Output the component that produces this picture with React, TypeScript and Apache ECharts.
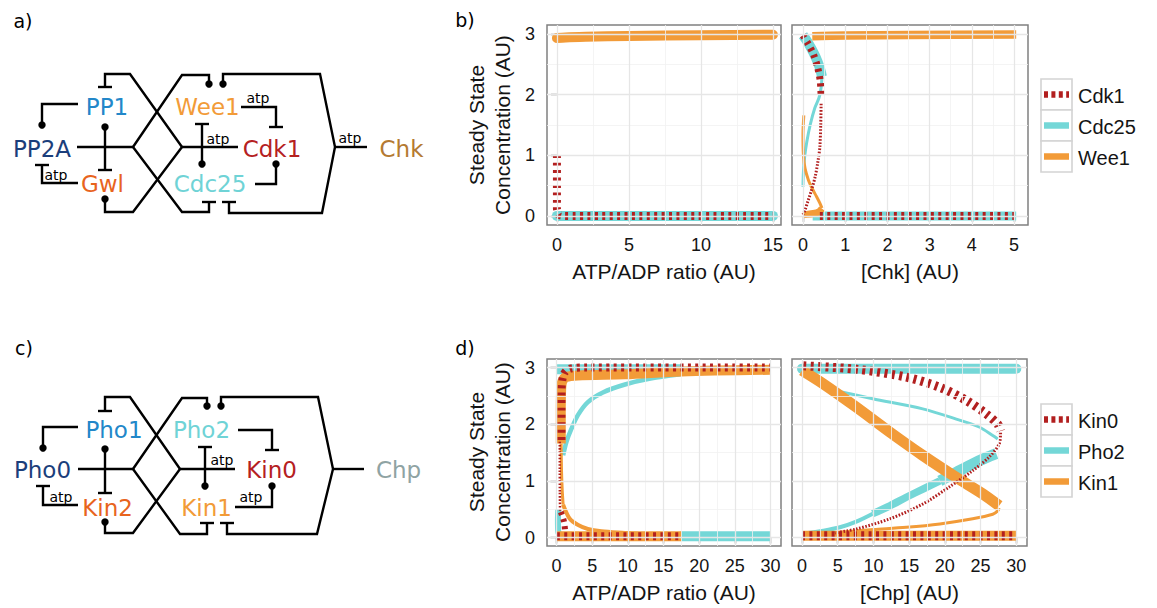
import React, { useEffect, useRef } from "react";
import * as echarts from "echarts";

type P = [number, number];

const RED = "#B21F1F";
const CYAN = "#74D7D7";
const ORANGE = "#F29B38";

// ---------------- tick values ----------------
const concTicks = [0, 1, 2, 3];
const concMinor = [0.5, 1.5, 2.5];
const atpTicksB = [0, 5, 10, 15];
const atpMinorB = [2.5, 7.5, 12.5];
const chkTicks = [0, 1, 2, 3, 4, 5];
const chkMinor = [0.5, 1.5, 2.5, 3.5, 4.5];
const ticks30 = [0, 5, 10, 15, 20, 25, 30];
const minor30 = [2.5, 7.5, 12.5, 17.5, 22.5, 27.5];

// ---------------- legends ----------------
const legendB = ["Cdk1", "Cdc25", "Wee1"];
const legendD = ["Kin0", "Pho2", "Kin1"];

// ---------------- panel b, left (ATP/ADP ratio) ----------------
const bATP_Cdc25: P[] = [[0, 0], [15, 0]];
const bATP_Wee1: P[] = [[0, 2.935], [0.6, 2.945], [2, 2.955], [5, 2.97], [10, 2.982], [15, 2.99]];
const bATP_Cdk1: P[] = [[0, 1.0], [0, 0.12], [0.12, 0.02], [0.4, 0], [15, 0]];

// ---------------- panel b, right ([Chk]) ----------------
const bChk_Cdc25_hi: P[] = [[0, 2.98], [0.1, 2.88], [0.2, 2.76], [0.3, 2.62], [0.39, 2.46], [0.45, 2.3]];
const bChk_Cdc25_mid: P[] = [[0.45, 2.3], [0.43, 2.12], [0.38, 1.95], [0.28, 1.78], [0.17, 1.5], [0.09, 1.22], [0.04, 0.98], [0.01, 0.72], [0, 0.48]];
const bChk_Cdc25_lo: P[] = [[0.23, 0], [5.05, 0]];
const bChk_Wee1_hi: P[] = [[0.22, 2.965], [1, 2.975], [2.5, 2.985], [5.05, 2.995]];
const bChk_Wee1_mid: P[] = [[0.02, 1.66], [0, 1.35], [0.01, 1.0], [0.05, 0.78], [0.13, 0.59], [0.22, 0.45], [0.32, 0.32], [0.4, 0.21], [0.45, 0.13]];
const bChk_Wee1_lo: P[] = [[0.45, 0.12], [0.38, 0.07], [0.25, 0.04], [0.1, 0.025], [0, 0.02]];
const bChk_Cdk1_hi: P[] = [[0, 2.98], [0.12, 2.84], [0.24, 2.68], [0.34, 2.47], [0.41, 2.22], [0.43, 1.95]];
const bChk_Cdk1_mid: P[] = [[0.43, 1.85], [0.42, 1.5], [0.4, 1.14], [0.35, 0.88], [0.29, 0.65], [0.2, 0.42], [0.12, 0.25], [0.05, 0.1], [0, 0.02]];
const bChk_Cdk1_lo: P[] = [[0.4, 0], [5, 0]];

// ---------------- panel d, left (ATP/ADP ratio) ----------------
const dATP_Pho2_hi: P[] = [[0.05, 2.97], [17.5, 2.97]];
const dATP_Pho2_lo: P[] = [[17.4, 0.02], [30, 0.02]];
const dATP_Pho2_mid: P[] = [[0.93, 1.45], [1.4, 1.69], [2.1, 1.92], [3.0, 2.16], [4.4, 2.39], [6.5, 2.56], [9.6, 2.7], [13, 2.8], [17.4, 2.88]];
const dATP_Pho2_low2: P[] = [[0.25, 0.5], [0.2, 0.3], [0.25, 0.1], [0.6, 0.04], [1.5, 0.03]];
const dATP_Kin1_hi: P[] = [[0.6, 1.66], [0.6, 2.2], [0.65, 2.6], [0.8, 2.75], [1.3, 2.83], [3, 2.86], [9.6, 2.88], [17.5, 2.93], [30, 2.96]];
const dATP_Kin1_lo: P[] = [[0.05, 0.02], [17.5, 0.02]];
const dATP_Kin1_mid: P[] = [[0.65, 1.66], [0.7, 1.2], [0.8, 0.85], [0.93, 0.58]];
const dATP_Kin1_mid2: P[] = [[0.93, 0.58], [1.86, 0.33], [3.04, 0.22], [4.4, 0.15], [6.3, 0.11], [9.6, 0.08], [13, 0.05]];
const dATP_Kin0_hi: P[] = [[0.7, 1.72], [0.7, 2.2], [0.72, 2.6], [0.85, 2.8], [1.2, 2.92], [1.9, 2.98], [4, 3.0], [30, 3.0]];
const dATP_Kin0_lo: P[] = [[0.05, 0.02], [17.5, 0.02]];
const dATP_Kin0_mid: P[] = [[0.46, 1.69], [0.46, 1.2], [0.47, 0.8], [0.5, 0.45]];
const dATP_Kin0_low2: P[] = [[0.6, 0.45], [0.9, 0.35], [1.1, 0.25], [1.2, 0.12]];

// ---------------- panel d, right ([Chp]) ----------------
const dChp_Pho2_hi: P[] = [[0, 2.98], [30, 2.98]];
const dChp_Pho2_mid: P[] = [[4.4, 2.6], [9.9, 2.45], [16.9, 2.27], [21.6, 2.09], [24.8, 1.95], [26.7, 1.8], [27.4, 1.74]];
const dChp_Pho2_rise1: P[] = [[0.2, 0.07], [3, 0.12], [5.3, 0.18], [7.6, 0.28], [9.9, 0.42]];
const dChp_Pho2_rise2: P[] = [[9.9, 0.42], [12.3, 0.56], [14.6, 0.71], [17, 0.86], [19.3, 1.0]];
const dChp_Pho2_rise3: P[] = [[19.3, 1.0], [21.6, 1.15], [23.9, 1.3], [25.8, 1.41], [27.2, 1.48]];
const dChp_Kin1_diag: P[] = [[0, 2.95], [3, 2.71], [7.6, 2.3], [12.3, 1.86], [16.9, 1.45], [21.6, 1.06], [25.3, 0.77], [27.6, 0.56]];
const dChp_Kin1_mid: P[] = [[27.6, 0.52], [27.4, 0.47], [26.7, 0.41], [23.9, 0.33], [19.3, 0.24], [14.6, 0.18], [10, 0.14], [4.8, 0.09]];
const dChp_Kin1_lo: P[] = [[0, 0.03], [30, 0.03]];
const dChp_Kin0_hi: P[] = [[0.2, 3.03], [7.6, 2.97], [14.6, 2.83], [19.3, 2.65], [23, 2.42], [25.8, 2.18], [27.4, 2.0], [27.8, 1.88]];
const dChp_Kin0_mid: P[] = [[27.8, 1.85], [27.6, 1.65], [26.2, 1.42], [23.9, 1.18], [20.6, 0.89], [16.9, 0.59], [12.3, 0.33], [7.6, 0.15], [4.6, 0.08]];
const dChp_Kin0_lo: P[] = [[0, 0.03], [30, 0.03]];

// ---------------- diagram labels ----------------
const diagA = ["PP1", "PP2A", "Gwl", "Wee1", "Cdk1", "Cdc25", "Chk"];
const diagC = ["Pho1", "Pho0", "Kin2", "Pho2", "Kin0", "Kin1", "Chp"];
const diagColors = ["#2287C9", "#1B3E7B", "#E8641D", "#F29B38", "#B5211F", "#6FD3D6"];
const colChk = "#B47A32";
const colChp = "#8FA3A3";

const FONT = '"Liberation Sans", Arial, sans-serif';
const DFONT = '"DejaVu Sans", Verdana, sans-serif';
const TXT = "#141414";

type Kind = "solid" | "dash" | "dot";

function seg(gi: number, name: string, data: P[], color: string, width: number, kind: Kind, cap = "butt", smooth: number | boolean = 0.3) {
  return {
    type: "line",
    name,
    xAxisIndex: gi,
    yAxisIndex: gi,
    data,
    showSymbol: false,
    symbol: "none",
    smooth,
    silent: true,
    clip: true,
    lineStyle: {
      color,
      width,
      type: kind === "dash" ? [3, 4.4] : kind === "dot" ? [1.6, 1.6] : "solid",
      cap,
      join: "round",
    },
  };
}

function gridSeries(gi: number, xMajor: number[], xMinor: number[]) {
  const maj = { color: "#e6e6e6", width: 1.3, type: "solid" };
  const min = { color: "#f1f1f1", width: 0.8, type: "solid" };
  const d: any[] = [];
  xMinor.forEach((v) => d.push({ xAxis: v, lineStyle: min }));
  concMinor.forEach((v) => d.push({ yAxis: v, lineStyle: min }));
  xMajor.forEach((v) => d.push({ xAxis: v, lineStyle: maj }));
  concTicks.forEach((v) => d.push({ yAxis: v, lineStyle: maj }));
  return {
    type: "line",
    xAxisIndex: gi,
    yAxisIndex: gi,
    data: [[0, 0]],
    showSymbol: false,
    symbol: "none",
    silent: true,
    z: 1,
    lineStyle: { opacity: 0 },
    markLine: {
      silent: true,
      symbol: ["none", "none"],
      label: { show: false },
      emphasis: { disabled: true },
      animation: false,
      data: d,
    },
  };
}

function xAxis(gi: number, min: number, max: number, ticks: number[], name: string) {
  return {
    type: "value",
    gridIndex: gi,
    min,
    max,
    name,
    nameLocation: "middle",
    nameGap: 36,
    nameTextStyle: { fontSize: 21, color: TXT, fontFamily: FONT },
    axisLine: { show: false },
    axisTick: { show: true, customValues: ticks, length: 6, lineStyle: { color: "#333", width: 1.3 } },
    axisLabel: { customValues: ticks, fontSize: 18, color: TXT, fontFamily: FONT, margin: 11 },
    splitLine: { show: false },
    minorSplitLine: { show: false },
  };
}

function yAxis(gi: number, labels: boolean) {
  return {
    type: "value",
    gridIndex: gi,
    min: -0.15,
    max: 3.15,
    axisLine: { show: false },
    axisTick: { show: labels, customValues: concTicks, length: 6, lineStyle: { color: "#333", width: 1.3 } },
    axisLabel: { show: labels, customValues: concTicks, fontSize: 18, color: TXT, fontFamily: FONT, margin: 12 },
    splitLine: { show: false },
  };
}

// ---------- diagram helpers ----------
const LW = 2.4;
function pl(points: number[][]) {
  return { type: "polyline", silent: true, shape: { points }, style: { stroke: "#000", lineWidth: LW, fill: null, lineJoin: "miter" } };
}
function dot(x: number, y: number) {
  return { type: "circle", silent: true, shape: { cx: x, cy: y, r: 3.7 }, style: { fill: "#000" } };
}
function tbar(x: number, y: number) {
  return { type: "line", silent: true, shape: { x1: x - 7, y1: y, x2: x + 7, y2: y }, style: { stroke: "#000", lineWidth: LW } };
}
function txt(text: string, x: number, y: number, color: string, size: number, family = DFONT) {
  return {
    type: "text",
    silent: true,
    x,
    y,
    style: { text, fill: color, font: `${size}px ${family}`, align: "center", verticalAlign: "middle", textAlign: "center", textVerticalAlign: "middle" },
  };
}

function diagramA(): any[] {
  const e: any[] = [];
  e.push(pl([[77, 147], [133, 147]]));
  e.push(pl([[133, 147], [182, 75], [209, 75], [209, 82]]), dot(209, 84));
  e.push(pl([[133, 147], [182, 212], [209, 212], [209, 202]]), tbar(209, 202));
  e.push(pl([[182, 147], [130, 74], [105, 74], [105, 87]]), tbar(105, 87));
  e.push(pl([[182, 147], [133, 212], [105, 212], [105, 200]]), dot(105, 199));
  e.push(pl([[182, 147], [238, 147]]));
  e.push(pl([[105, 127], [105, 170]]), dot(105, 127), tbar(105, 170));
  e.push(pl([[202, 124], [202, 164]]), tbar(202, 124), dot(202, 164));
  e.push(pl([[78, 104], [42, 104], [42, 123]]), dot(42, 125));
  e.push(pl([[78, 183], [42, 183], [42, 165]]), tbar(42, 165));
  e.push(pl([[241, 107], [276, 107], [276, 127]]), tbar(276, 127));
  e.push(pl([[255, 184], [276, 184], [276, 166]]), dot(276, 164));
  e.push(pl([[223, 83], [223, 74], [320, 74], [335, 147], [322, 213], [229, 213], [229, 202]]), dot(223, 84), tbar(229, 202));
  e.push(pl([[335, 147], [367, 147]]));
  const pos = [[107, 106], [42, 148], [102.5, 183], [207.5, 106], [272, 148], [210, 183]];
  diagA.slice(0, 6).forEach((t, i) => e.push(txt(t, pos[i][0], pos[i][1] + 1, diagColors[i], 23)));
  e.push(txt(diagA[6], 401.5, 149, colChk, 23));
  e.push(txt("atp", 218, 139, "#000", 14), txt("atp", 56, 175, "#000", 14), txt("atp", 258, 98, "#000", 14), txt("atp", 350, 138, "#000", 14));
  e.push(txt("a)", 23, 21, "#000", 19));
  return e;
}

function diagramC(): any[] {
  const e: any[] = [];
  e.push(pl([[78, 469], [133, 469]]));
  e.push(pl([[133, 469], [182, 398], [207, 398], [207, 404]]), dot(207, 406));
  e.push(pl([[133, 469], [180, 534], [207, 534], [207, 523]]), tbar(207, 523));
  e.push(pl([[180, 469], [130, 397], [105, 397], [105, 411]]), tbar(105, 411));
  e.push(pl([[180, 469], [133, 533], [105, 533], [105, 524]]), dot(105, 522));
  e.push(pl([[180, 469], [235, 469]]));
  e.push(pl([[105, 449], [105, 493]]), dot(105, 449), tbar(105, 493));
  e.push(pl([[205, 447], [205, 486]]), tbar(205, 447), dot(205, 486));
  e.push(pl([[78, 427], [43, 427], [43, 446]]), dot(43, 448));
  e.push(pl([[78, 505], [43, 505], [43, 486]]), tbar(43, 486));
  e.push(pl([[238, 430], [272, 430], [272, 450]]), tbar(272, 450));
  e.push(pl([[235, 507], [272, 507], [272, 488]]), dot(272, 486));
  e.push(pl([[221, 405], [221, 397], [318, 397], [333, 469], [317, 534], [227, 534], [227, 523]]), dot(221, 406), tbar(227, 523));
  e.push(pl([[333, 469], [364, 469]]));
  const pos = [[114, 429], [42.5, 469], [107.5, 507], [201.5, 429], [271.5, 469], [206.5, 507]];
  const cols = [diagColors[0], diagColors[1], diagColors[2], diagColors[5], diagColors[4], diagColors[3]];
  diagC.slice(0, 6).forEach((t, i) => e.push(txt(t, pos[i][0], pos[i][1] + 1, cols[i], 23)));
  e.push(txt(diagC[6], 398.5, 470, colChp, 23));
  e.push(txt("atp", 222, 460, "#000", 14), txt("atp", 61, 497, "#000", 14), txt("atp", 251, 497, "#000", 14));
  e.push(txt("c)", 24, 348, "#000", 19));
  return e;
}

function legend(top: number, names: string[], kinds: Kind[], colors: string[]): any[] {
  const e: any[] = [];
  const x0 = 1041;
  const h = 31;
  names.forEach((n, i) => {
    const y = top + i * h;
    e.push({ type: "rect", silent: true, shape: { x: x0, y, width: 31, height: h }, style: { fill: "#fff", stroke: "#d3d3d3", lineWidth: 1.6 } });
    const cy = y + h / 2;
    const dash = kinds[i] === "dash" ? [4, 3.4] : null;
    e.push({ type: "line", silent: true, shape: { x1: x0 + 3, y1: cy, x2: x0 + 28, y2: cy }, style: { stroke: colors[i], lineWidth: 6.5, lineDash: dash, lineCap: "butt" } });
    e.push({
      type: "text",
      silent: true,
      x: x0 + 37,
      y: cy + 1,
      style: { text: n, fill: TXT, font: `20px ${FONT}`, align: "left", verticalAlign: "middle", textAlign: "left", textVerticalAlign: "middle" },
    });
  });
  return e;
}

function buildOption(): any {
  const grids = [
    { left: 547, top: 25, width: 234, height: 200 },
    { left: 792, top: 25, width: 236, height: 200 },
    { left: 547, top: 359, width: 234, height: 187 },
    { left: 792, top: 359, width: 235, height: 187 },
  ].map((g) => ({ ...g, show: true, borderColor: "#808080", borderWidth: 1.5, backgroundColor: "#fff", containLabel: false }));

  const series: any[] = [
    gridSeries(0, atpTicksB, atpMinorB),
    gridSeries(1, chkTicks, chkMinor),
    gridSeries(2, ticks30, minor30),
    gridSeries(3, ticks30, minor30),

    // b left
    seg(0, "Cdc25", bATP_Cdc25, CYAN, 10, "solid", "round", false),
    seg(0, "Wee1", bATP_Wee1, ORANGE, 10, "solid", "round"),
    seg(0, "Cdk1", bATP_Cdk1, RED, 8, "dash", "butt", 0.2),

    // b right
    seg(1, "Cdc25", bChk_Cdc25_lo, CYAN, 9, "solid", "butt", false),
    seg(1, "Cdc25", bChk_Cdc25_hi, CYAN, 10, "solid"),
    seg(1, "Cdc25", bChk_Cdc25_mid, CYAN, 3, "solid"),
    seg(1, "Wee1", bChk_Wee1_hi, ORANGE, 8.5, "solid"),
    seg(1, "Wee1", bChk_Wee1_mid, ORANGE, 3, "solid"),
    seg(1, "Wee1", bChk_Wee1_lo, ORANGE, 7, "solid"),
    seg(1, "Cdk1", bChk_Cdk1_hi, RED, 7, "dash"),
    seg(1, "Cdk1", bChk_Cdk1_mid, RED, 3, "dot"),
    seg(1, "Cdk1", bChk_Cdk1_lo, RED, 8, "dash", "butt", false),

    // d left
    seg(2, "Pho2", dATP_Pho2_hi, CYAN, 10, "solid", "butt", false),
    seg(2, "Pho2", dATP_Pho2_lo, CYAN, 10, "solid", "butt", false),
    seg(2, "Pho2", dATP_Pho2_mid, CYAN, 4.5, "solid"),
    seg(2, "Pho2", dATP_Pho2_low2, CYAN, 6, "solid"),
    seg(2, "Kin1", dATP_Kin1_hi, ORANGE, 10, "solid"),
    seg(2, "Kin1", dATP_Kin1_lo, ORANGE, 10, "solid", "butt", false),
    seg(2, "Kin1", dATP_Kin1_mid, ORANGE, 3, "solid"),
    seg(2, "Kin1", dATP_Kin1_mid2, ORANGE, 4, "solid"),
    seg(2, "Kin0", dATP_Kin0_hi, RED, 8, "dash"),
    seg(2, "Kin0", dATP_Kin0_lo, RED, 8, "dash", "butt", false),
    seg(2, "Kin0", dATP_Kin0_mid, RED, 2.5, "dot"),
    seg(2, "Kin0", dATP_Kin0_low2, RED, 6, "dash"),

    // d right
    seg(3, "Pho2", dChp_Pho2_hi, CYAN, 10, "solid", "round", false),
    seg(3, "Pho2", dChp_Pho2_mid, CYAN, 3, "solid"),
    seg(3, "Pho2", dChp_Pho2_rise1, CYAN, 4, "solid"),
    seg(3, "Pho2", dChp_Pho2_rise2, CYAN, 7.5, "solid"),
    seg(3, "Pho2", dChp_Pho2_rise3, CYAN, 11, "solid"),
    seg(3, "Kin1", dChp_Kin1_lo, ORANGE, 10, "solid", "butt", false),
    seg(3, "Kin1", dChp_Kin1_diag, ORANGE, 11, "solid"),
    seg(3, "Kin1", dChp_Kin1_mid, ORANGE, 3, "solid"),
    seg(3, "Kin0", dChp_Kin0_lo, RED, 9, "dash", "butt", false),
    seg(3, "Kin0", dChp_Kin0_hi, RED, 9, "dash"),
    seg(3, "Kin0", dChp_Kin0_mid, RED, 3, "dot"),
  ];

  const graphic: any[] = [
    ...diagramA(),
    ...diagramC(),
    txt("b)", 465, 20, "#000", 19),
    txt("d)", 465, 348, "#000", 19),
    {
      type: "text",
      silent: true,
      x: 489,
      y: 125,
      rotation: Math.PI / 2,
      style: { text: "Steady State\nConcentration (AU)", fill: TXT, font: `21px ${FONT}`, lineHeight: 26, align: "center", verticalAlign: "middle", textAlign: "center", textVerticalAlign: "middle" },
    },
    {
      type: "text",
      silent: true,
      x: 489,
      y: 452,
      rotation: Math.PI / 2,
      style: { text: "Steady State\nConcentration (AU)", fill: TXT, font: `21px ${FONT}`, lineHeight: 26, align: "center", verticalAlign: "middle", textAlign: "center", textVerticalAlign: "middle" },
    },
    ...legend(79, legendB, ["dash", "solid", "solid"], [RED, CYAN, ORANGE]),
    ...legend(404, legendD, ["dash", "solid", "solid"], [RED, CYAN, ORANGE]),
  ];

  return {
    animation: false,
    backgroundColor: "#fff",
    grid: grids,
    xAxis: [
      xAxis(0, -0.69, 15.56, atpTicksB, "ATP/ADP ratio (AU)"),
      xAxis(1, -0.26, 5.33, chkTicks, "[Chk] (AU)"),
      xAxis(2, -1.33, 31.47, ticks30, "ATP/ADP ratio (AU)"),
      xAxis(3, -1.4, 31.5, ticks30, "[Chp] (AU)"),
    ],
    yAxis: [yAxis(0, true), yAxis(1, false), yAxis(2, true), yAxis(3, false)],
    series,
    graphic: { elements: graphic },
  };
}

export default function App() {
  const ref = useRef<HTMLDivElement>(null);
  useEffect(() => {
    if (!ref.current) return;
    const chart = echarts.init(ref.current, null, { renderer: "svg" });
    chart.setOption(buildOption());
    return () => chart.dispose();
  }, []);
  return <div ref={ref} style={{ position: "absolute", left: 0, top: 0, width: 1157, height: 608, background: "#fff" }} />;
}
